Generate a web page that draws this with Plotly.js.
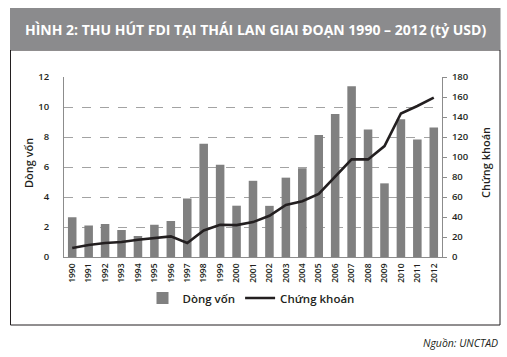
<!DOCTYPE html>
<html>
<head>
<meta charset="utf-8">
<script src="https://cdn.plot.ly/plotly-3.0.1.min.js"></script>
<style>html,body{margin:0;padding:0;background:#fff;}#chart{width:507px;height:357px;}</style>
</head>
<body>
<div id="chart"></div>
<script>
const years = ["1990","1991","1992","1993","1994","1995","1996","1997","1998","1999","2000","2001","2002","2003","2004","2005","2006","2007","2008","2009","2010","2011","2012"];
const dongVon = [2.65,2.1,2.2,1.8,1.4,2.15,2.4,3.9,7.55,6.15,3.42,5.08,3.41,5.29,5.91,8.13,9.54,11.38,8.5,4.91,9.19,7.84,8.63];
const chungKhoan = [9,12,14,15,17.3,18.6,20.6,14,26.6,32.2,31.9,34.9,41.2,52.1,55.8,63.1,80.4,97.6,97.6,110.9,143.5,151,159.4];
const leftTicks = [0,2,4,6,8,10,12];
const rightTicks = [0,20,40,60,80,100,120,140,160,180];
const titleText = "HÌNH 2: THU HÚT FDI TẠI THÁI LAN GIAI ĐOẠN 1990 – 2012 (tỷ USD)";
const seriesNames = ["Dòng vốn","Chứng khoán"];
const sourceText = "Nguồn: UNCTAD";

const FONT = "Open Sans, Roboto, sans-serif";
// plot area: left 64, right 442, top 77, bottom 257
const L=64, R=442, T=77, B=257, W=507, H=357;
const px = x => (x-L)/(R-L);
const py = y => (B-y)/(B-T);

const traces = [
  {type:'bar', x:years, y:dongVon, name:seriesNames[0], marker:{color:'#808080'}, width:0.52},
  {type:'scatter', mode:'lines', x:years, y:chungKhoan, name:seriesNames[1], yaxis:'y2', line:{color:'#231f20', width:2.6}}
];

const layout = {
  width:W, height:H,
  margin:{l:L, r:W-R, t:T, b:H-B, pad:0},
  paper_bgcolor:'#fff', plot_bgcolor:'#fff',
  font:{family:FONT, color:'#231f20', size:10},
  showlegend:true,
  legend:{orientation:'h', x:px(251), xanchor:'center', y:py(298), yanchor:'middle',
          font:{size:11.5, family:FONT, color:'#231f20', weight:600}, itemwidth:30, tracegroupgap:0, bgcolor:'rgba(0,0,0,0)'},
  xaxis:{type:'category', tickangle:-90, tickfont:{size:8.5, family:FONT, color:'#231f20', weight:600},
         showline:true, linecolor:'#8c8c8c', linewidth:1, ticks:'', showgrid:false, zeroline:false,
         ticklabelstandoff:2, fixedrange:true},
  yaxis:{range:[0,12], tickvals:leftTicks, showline:true, linecolor:'#8c8c8c', linewidth:1,
         showgrid:true, gridcolor:'#8c8c8c', griddash:'dash', gridwidth:0.8, zeroline:false,
         tickfont:{size:9.5, family:FONT, color:'#231f20', weight:600}, ticks:'', ticklabelstandoff:12},
  yaxis2:{range:[0,180], tickvals:rightTicks, overlaying:'y', side:'right', showline:true,
          linecolor:'#8c8c8c', linewidth:1, showgrid:false, zeroline:false, ticks:'outside',
          ticklen:4, tickcolor:'#8c8c8c', tickfont:{size:9.5, family:FONT, color:'#231f20', weight:600}, ticklabelstandoff:3},
  shapes:[
    {type:'rect', xref:'paper', yref:'paper', x0:px(10.5), x1:px(500), y0:py(325), y1:py(50),
     line:{color:'#231f20', width:1}, fillcolor:'rgba(0,0,0,0)', layer:'below'},
    {type:'rect', xref:'paper', yref:'paper', x0:px(10), x1:px(500.5), y0:py(50), y1:py(8),
     line:{width:0}, fillcolor:'#8b8b8d', layer:'below'}
  ],
  annotations:[
    {xref:'paper', yref:'paper', x:px(255), y:py(29), text:'<b>'+titleText+'</b>', showarrow:false,
     xanchor:'center', yanchor:'middle', font:{size:14, color:'#ffffff', family:FONT}},
    {xref:'paper', yref:'paper', x:px(28), y:py(163), text:seriesNames[0], textangle:-90, showarrow:false,
     xanchor:'center', yanchor:'middle', font:{size:11, family:FONT, color:'#231f20', weight:600}},
    {xref:'paper', yref:'paper', x:px(485), y:py(163), text:seriesNames[1], textangle:-90, showarrow:false,
     xanchor:'center', yanchor:'middle', font:{size:11, family:FONT, color:'#231f20', weight:600}},
    {xref:'paper', yref:'paper', x:px(500), y:py(343), text:'<i>'+sourceText+'</i>', showarrow:false,
     xanchor:'right', yanchor:'middle', font:{size:10.5, family:FONT, color:'#231f20'}}
  ]
};

Plotly.newPlot('chart', traces, layout, {staticPlot:true, displayModeBar:false});
</script>
</body>
</html>
